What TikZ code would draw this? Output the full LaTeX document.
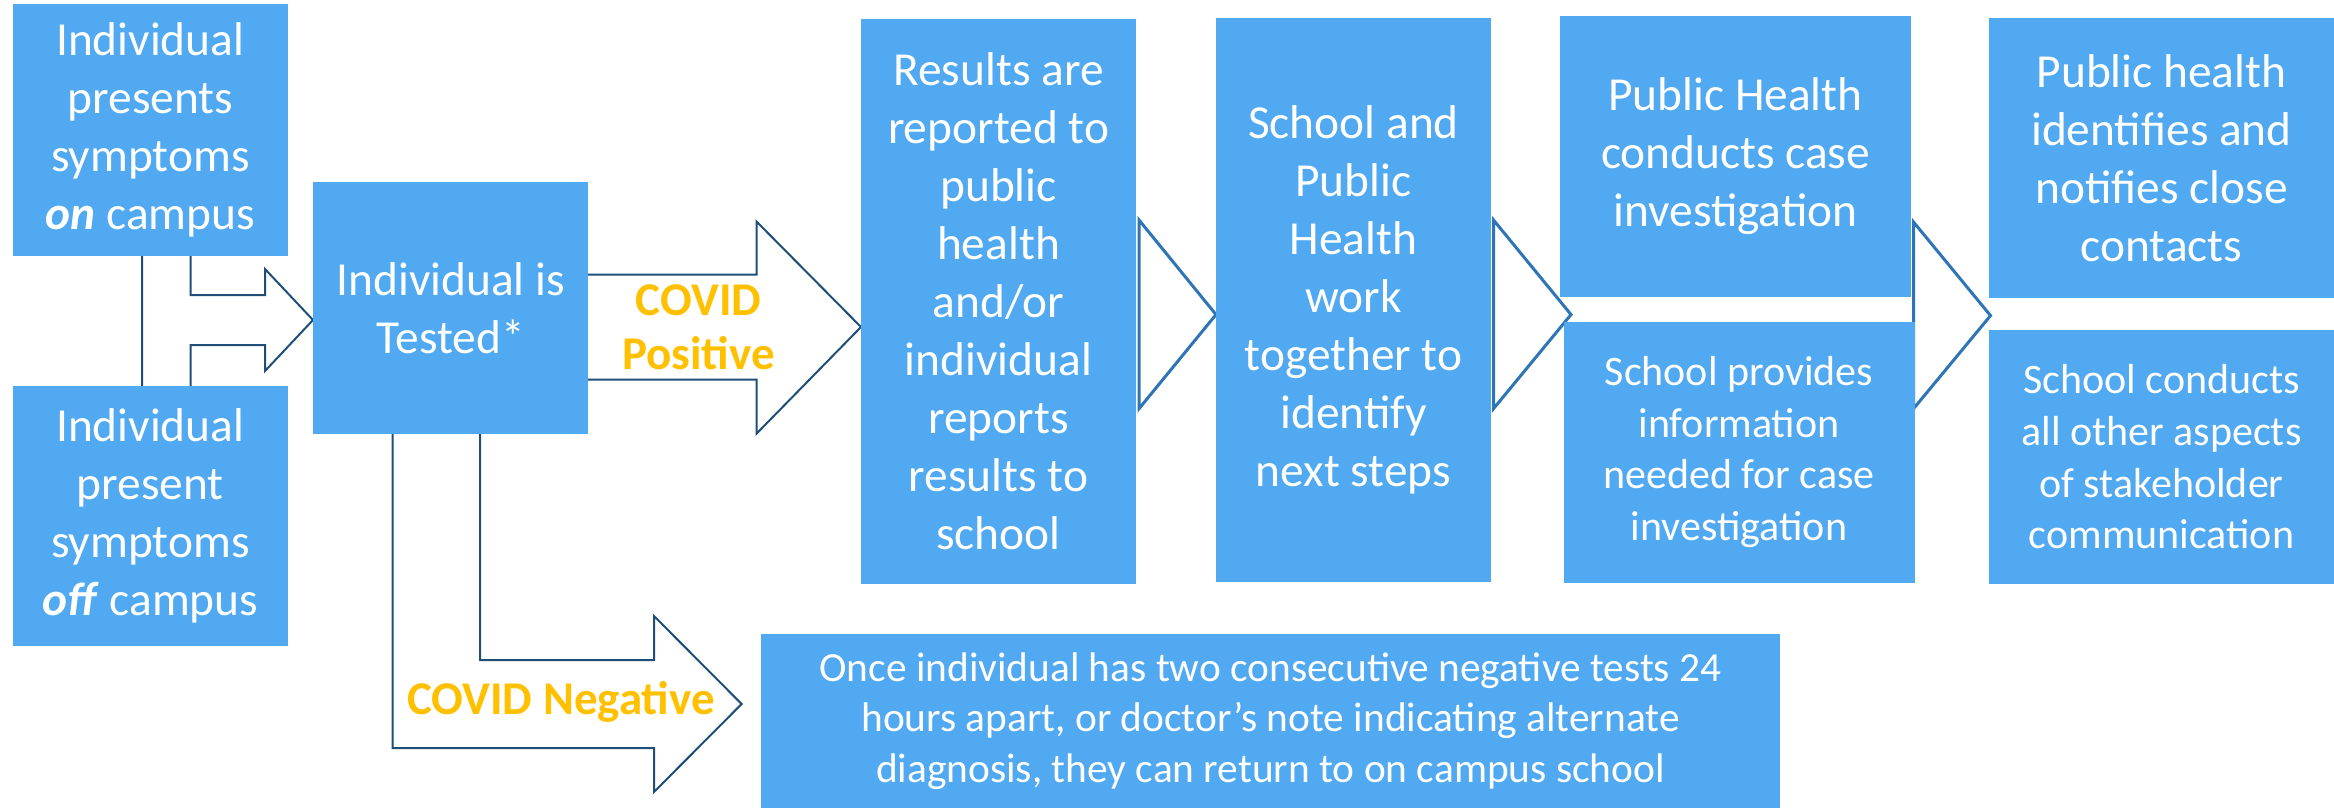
\documentclass[tikz,border=0pt]{standalone}
\usepackage{fontspec}
\setmainfont{Carlito}
\definecolor{boxblue}{RGB}{80,169,241}
\definecolor{darkline}{RGB}{31,78,121}
\definecolor{chevline}{RGB}{46,117,182}
\definecolor{gold}{RGB}{255,192,0}
\begin{document}
\begin{tikzpicture}[x=0.5pt,y=-0.5pt,
  box/.style 2 args={fill=boxblue,draw=none,text=white,align=center,inner sep=0pt,
    minimum width=#1*0.5pt,minimum height=#2*0.5pt,font=\fontsize{23.7}{29}\selectfont},
  smallbox/.style={font=\fontsize{21}{25.8}\selectfont},
  lab/.style={text=gold,align=center,inner sep=0pt,font=\bfseries\fontsize{23.5}{27}\selectfont},
  blockarrow/.style={draw=darkline,line width=1pt,fill=white,line join=miter},
  chevron/.style={draw=chevline,line width=1.5pt,fill=white,line join=miter}]
\useasboundingbox (0,0) rectangle (2334,808);

% block arrows (drawn behind boxes)
\draw[blockarrow] (142,250) -- (190.6,250) -- (190.6,295) -- (265,295) -- (265,269)
  -- (313,320) -- (265,371) -- (265,345) -- (190.6,345) -- (190.6,392) -- (142,392) -- cycle;
\draw[blockarrow] (580,274.5) -- (756.5,274.5) -- (756.5,221.5) -- (861,327)
  -- (756.5,433.7) -- (756.5,379.6) -- (580,379.6) -- cycle;
\draw[blockarrow] (392.6,425) -- (392.6,748) -- (654,748) -- (654,792) -- (741.6,704)
  -- (654,616) -- (654,660) -- (480,660) -- (480,425) -- cycle;

% chevrons
\draw[chevron] (1139,220) -- (1216,314.6) -- (1139,408.7) -- cycle;
\draw[chevron] (1493.5,220) -- (1571,314.6) -- (1493.5,408.7) -- cycle;
\draw[chevron] (1913.5,222) -- (1990.5,315.6) -- (1913.5,408.7) -- cycle;

% boxes
\node[box={275.4}{252}] (on) at (150.3,130)
  {Individual\\presents\\symptoms\\\textbf{\textit{on}} campus};
\node[box={275.4}{260}] (off) at (150.3,516)
  {Individual\\present\\symptoms\\\textbf{\textit{off}} campus};
\node[box={275.3}{252}] (tested) at (450.7,308) {Individual is\\Tested*};
\node[box={275}{565}] (results) at (998.5,301.5)
  {Results are\\reported to\\public\\health\\and/or\\individual\\reports\\results to\\school};
\node[box={275}{564}] (work) at (1353.5,300)
  {School and\\Public\\Health\\work\\together to\\identify\\next steps};
\node[box={351}{280}] (phcase) at (1735.5,156.5)
  {Public Health\\conducts case\\investigation};
\node[box={351}{261},smallbox] (schinfo) at (1739,452)
  {School provides\\information\\needed for case\\investigation};
\node[box={345}{280.5}] (phcontacts) at (2161.5,158.2)
  {Public health\\identifies and\\notifies close\\contacts};
\node[box={345}{253.6},smallbox] (schcomm) at (2161.5,456.8)
  {School conducts\\all other aspects\\of stakeholder\\communication};
\node[box={1019}{174},font=\fontsize{20.7}{25.3}\selectfont] (return) at (1270.5,721)
  {Once individual has two consecutive negative tests 24\\hours apart, or doctor’s note indicating alternate\\diagnosis, they can return to on campus school};

% labels
\node[lab] (pos) at (698.5,327) {COVID\\Positive};
\node[lab] (neg) at (561,702) {COVID Negative};
\end{tikzpicture}
\end{document}
